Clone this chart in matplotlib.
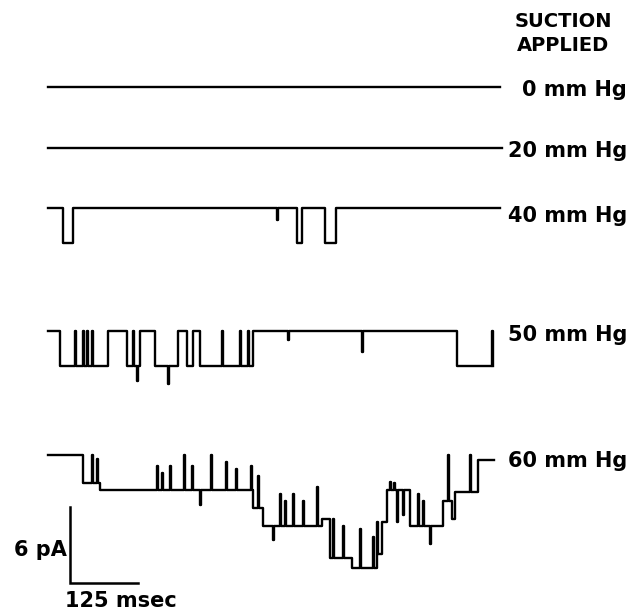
import numpy as np
import matplotlib
matplotlib.use("Agg")
import matplotlib.pyplot as plt

# single-channel currents at different suction, times in ms, levels in open channels
i_unit = 2.8  # pA per channel

t0 = [0, 830]
lvl0 = [0]

t20 = [0, 835]
lvl20 = [0]

t40 = [0, 27.6, 46.0, 457.7, 466.9, 509.2, 529.4, 830]
lvl40 = [0, 1, 0, 1, 0, 1, 0]
spk40_t = [420.9]
spk40_lvl = [0.35]

t50 = [0, 22.1, 110.8, 145.8, 169.1, 196.7, 239.5, 255.0, 266.0, 279.4,
       377.4, 752.3, 818]
lvl50 = [0, 1, 0, 1, 0, 1, 0, 1, 0, 1, 0, 1]
spk50_t = [49.6, 64.9, 71.1, 80.3, 156.8, 163.1, 220.0, 319.3, 352.9, 368.2,
           441.7, 576.6, 815.5]
spk50_lvl = [0, 0, 0, 0, 0, 1.4, 1.5, 0, 0, 0, 0.25, 0.6, 0]

t60 = [0, 64.3, 95.6, 376.8, 395.2, 503.6, 518.3, 558.8, 599.2, 613.4,
       622.6, 665.4, 726.6, 742.6, 748.1, 791.0, 820]
lvl60 = [0, 0.8, 1.0, 1.5, 2.0, 1.8, 2.9, 3.2, 2.8, 1.9, 1.0, 2.0, 1.3, 1.8,
         1.05, 0.15]
spk60_t = [80.3, 89.5, 200.3, 209.5, 224.2, 250.0, 264.7, 279.4, 299.6,
           327.2, 345.6, 373.1, 386.0, 413.6, 426.4, 435.6, 450.3, 468.7,
           494.4, 523.8, 542.2, 573.5, 597.4, 604.7, 628.6, 636.0, 640.9,
           652.5, 680.1, 689.3, 702.0, 735.8, 775.7]
spk60_lvl = [0, 0.1, 0.3, 0.5, 0.3, 0.0, 0.3, 1.4, 0.0, 0.2, 0.4, 0.3, 0.6,
             2.4, 1.1, 1.3, 1.1, 1.3, 0.9, 1.8, 2.0, 2.1, 2.3, 1.9, 0.75,
             0.8, 1.9, 1.7, 1.1, 1.3, 2.5, 0, 0]

labels = ["0 mm Hg", "20 mm Hg", "40 mm Hg", "50 mm Hg", "60 mm Hg"]

# layout (pixels)
W, H = 629, 614
px_per_ms = 68 / 125
px_per_pA = 76 / 6
x_start = 48
base_px = [87, 148, 208, 331, 455]
label_base_px = [96, 157, 222, 341, 467]


def step_trace(times, levels, spk_t=(), spk_lvl=(), w=2.0):
    ev = list(zip(times[:-1], levels))
    for ts, ls in zip(spk_t, spk_lvl):
        cur = levels[np.searchsorted(times, ts, side="right") - 1]
        ev += [(ts, ls), (ts + w, cur)]
    ev.sort()
    xs = [e[0] for e in ev] + [times[-1]]
    ys = [e[1] for e in ev] + [ev[-1][1]]
    return np.array(xs), np.array(ys)


fig = plt.figure(figsize=(W / 100, H / 100), dpi=100)
ax = fig.add_axes([0, 0, 1, 1])
ax.set_xlim(-x_start / px_per_ms, (W - x_start) / px_per_ms)
ax.set_ylim(-H / px_per_pA, 0)
ax.axis("off")

traces = [
    (t0, lvl0, [], []),
    (t20, lvl20, [], []),
    (t40, lvl40, spk40_t, spk40_lvl),
    (t50, lvl50, spk50_t, spk50_lvl),
    (t60, lvl60, spk60_t, spk60_lvl),
]
for (tt, ll, st, sl), bp in zip(traces, base_px):
    x, lev = step_trace(tt, ll, st, sl)
    y = -bp / px_per_pA - lev * i_unit
    ax.plot(x, y, drawstyle="steps-post", color="black", lw=1.7)

font = dict(family="DejaVu Sans", color="black", fontweight="bold")
for lab, yb in zip(labels, label_base_px):
    fig.text(627 / W, 1 - yb / H, lab, ha="right", va="baseline", fontsize=15, **font)
fig.text(563 / W, 1 - 27 / H, "SUCTION", ha="center", va="baseline", fontsize=14, **font)
fig.text(563 / W, 1 - 51 / H, "APPLIED", ha="center", va="baseline", fontsize=14, **font)

# scale bars: 125 msec, 6 pA
sx = (70 - x_start) / px_per_ms
sy = -583 / px_per_pA
ax.plot([sx, sx, sx + 125], [sy + 6, sy, sy], color="black", lw=1.8,
        solid_joinstyle="miter")
fig.text(67 / W, 1 - 556 / H, "6 pA", ha="right", va="baseline", fontsize=15, **font)
fig.text(65 / W, 1 - 607 / H, "125 msec", ha="left", va="baseline", fontsize=15, **font)

fig.savefig("out.png", dpi=100)
